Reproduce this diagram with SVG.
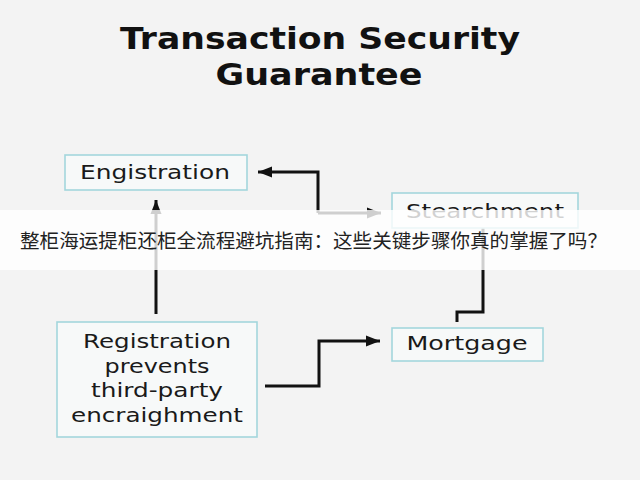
<svg xmlns="http://www.w3.org/2000/svg" width="640" height="480" viewBox="0 0 640 480">
<defs>
<marker id="ah" markerWidth="14" markerHeight="12" refX="14" refY="6" orient="auto" markerUnits="userSpaceOnUse">
<path d="M0,0.5 L14,6 L0,11.5 Z" fill="#111"/>
</marker>
<style>
.box{fill:#f7f9f9;stroke:#a3d6dc;stroke-width:1.6}
.lbl{font-family:"DejaVu Sans","Liberation Sans",sans-serif;font-size:19.5px;fill:#1a1a1a;text-anchor:middle}
.ttl{font-family:"DejaVu Sans","Liberation Sans",sans-serif;font-size:30px;font-weight:bold;fill:#111;text-anchor:middle}
.con{fill:none;stroke:#111;stroke-width:3}
</style>
</defs>
<rect width="640" height="480" fill="#f3f3f3"/>
<text class="ttl" x="320" y="49" textLength="400" lengthAdjust="spacingAndGlyphs">Transaction Security</text>
<text class="ttl" x="319" y="85" textLength="207" lengthAdjust="spacingAndGlyphs">Guarantee</text>
<g id="connectors">
<path class="con" d="M318,213 V172 H258" marker-end="url(#ah)"/>
<path class="con" d="M318,213 H381" marker-end="url(#ah)"/>
<path class="con" d="M156,314 V200" marker-end="url(#ah)"/>
<path class="con" d="M265,386 H319 V341 H380" marker-end="url(#ah)"/>
<path class="con" d="M483,228 V312 H457 V322"/>
</g>
<g id="engistration">
<rect class="box" x="65" y="155" width="182" height="35"/>
<text class="lbl" x="155" y="179" textLength="150" lengthAdjust="spacingAndGlyphs">Engistration</text>
</g>
<g id="stearchment">
<rect class="box" x="392" y="193" width="186" height="35"/>
<text class="lbl" x="485" y="218" textLength="158" lengthAdjust="spacingAndGlyphs">Stearchment</text>
</g>
<g id="registration">
<rect class="box" x="57" y="322" width="200" height="115"/>
<text class="lbl" x="157" y="348" textLength="148" lengthAdjust="spacingAndGlyphs">Registration</text>
<text class="lbl" x="157" y="373" textLength="105" lengthAdjust="spacingAndGlyphs">prevents</text>
<text class="lbl" x="157" y="397" textLength="132" lengthAdjust="spacingAndGlyphs">third-party</text>
<text class="lbl" x="157" y="422" textLength="172" lengthAdjust="spacingAndGlyphs">encraighment</text>
</g>
<g id="mortgage">
<rect class="box" x="392" y="328" width="151" height="33"/>
<text class="lbl" x="467" y="350" textLength="121" lengthAdjust="spacingAndGlyphs">Mortgage</text>
</g>
<rect x="0" y="210" width="640" height="60" fill="#ffffff" fill-opacity="0.8"/>
<text x="20" y="248" font-family="'Noto Sans CJK SC',sans-serif" font-size="19.5" fill="#222" textLength="587" lengthAdjust="spacingAndGlyphs">整柜海运提柜还柜全流程避坑指南：这些关键步骤你真的掌握了吗？</text>
</svg>
